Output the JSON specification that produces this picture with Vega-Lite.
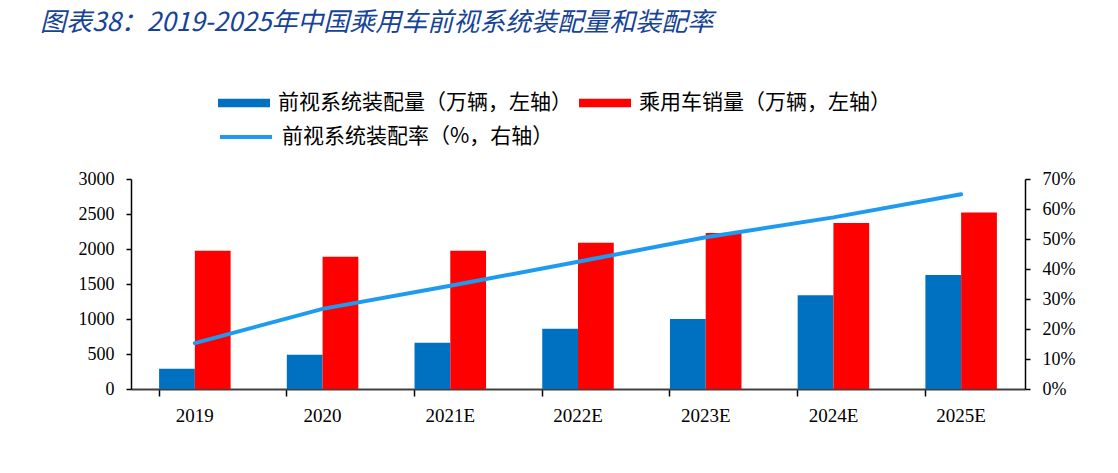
{
  "$schema": "https://vega.github.io/schema/vega-lite/v6.json",
  "width": 894,
  "height": 210,
  "autosize": "none",
  "padding": {"left": 131, "top": 179, "right": 93, "bottom": 84},
  "background": "white",
  "config": {
    "view": {"stroke": "transparent"},
    "axis": {"grid": false, "labelColor": "black", "tickColor": "black", "domainColor": "black"}
  },
  "title": {
    "text": "图表38：2019-2025年中国乘用车前视系统装配量和装配率",
    "anchor": "start",
    "frame": "group",
    "dx": -91,
    "offset": 41,
    "font": "Noto Sans CJK SC",
    "fontSize": 26,
    "fontStyle": "italic",
    "fontWeight": "normal",
    "color": "#164396"
  },
  "datasets": {
    "bars": [
      {"year": "2019", "series": "前视系统装配量（万辆，左轴）", "value": 290},
      {"year": "2019", "series": "乘用车销量（万辆，左轴）", "value": 1975},
      {"year": "2020", "series": "前视系统装配量（万辆，左轴）", "value": 490},
      {"year": "2020", "series": "乘用车销量（万辆，左轴）", "value": 1890},
      {"year": "2021E", "series": "前视系统装配量（万辆，左轴）", "value": 660},
      {"year": "2021E", "series": "乘用车销量（万辆，左轴）", "value": 1975},
      {"year": "2022E", "series": "前视系统装配量（万辆，左轴）", "value": 860},
      {"year": "2022E", "series": "乘用车销量（万辆，左轴）", "value": 2090},
      {"year": "2023E", "series": "前视系统装配量（万辆，左轴）", "value": 1000},
      {"year": "2023E", "series": "乘用车销量（万辆，左轴）", "value": 2230},
      {"year": "2024E", "series": "前视系统装配量（万辆，左轴）", "value": 1340},
      {"year": "2024E", "series": "乘用车销量（万辆，左轴）", "value": 2370},
      {"year": "2025E", "series": "前视系统装配量（万辆，左轴）", "value": 1630},
      {"year": "2025E", "series": "乘用车销量（万辆，左轴）", "value": 2520}
    ],
    "rate": [
      {"year": "2019", "rate": 0.153},
      {"year": "2020", "rate": 0.267},
      {"year": "2021E", "rate": 0.344},
      {"year": "2022E", "rate": 0.424},
      {"year": "2023E", "rate": 0.506},
      {"year": "2024E", "rate": 0.572},
      {"year": "2025E", "rate": 0.649}
    ]
  },
  "layer": [
    {
      "data": {"name": "bars"},
      "mark": {"type": "bar"},
      "encoding": {
        "x": {
          "field": "year",
          "type": "nominal",
          "sort": null,
          "scale": {"paddingInner": 0.44, "paddingOuter": 0.22},
          "axis": {
            "title": null,
            "labelAngle": 0,
            "labelFont": "Liberation Serif",
            "labelFontSize": 19,
            "labelPadding": 10,
            "bandPosition": 0,
            "tickSize": 7,
            "tickWidth": 1.5,
            "domainColor": "#404040",
            "domainWidth": 2
          }
        },
        "xOffset": {
          "field": "series",
          "type": "nominal",
          "sort": ["前视系统装配量（万辆，左轴）", "乘用车销量（万辆，左轴）"]
        },
        "y": {
          "field": "value",
          "type": "quantitative",
          "scale": {"domain": [0, 3000], "nice": false},
          "axis": {
            "title": null,
            "format": "d",
            "values": [0, 500, 1000, 1500, 2000, 2500, 3000],
            "labelFont": "Liberation Serif",
            "labelFontSize": 18,
            "labelPadding": 12,
            "tickSize": 5,
            "tickWidth": 1.5,
            "domainWidth": 1.5
          }
        },
        "color": {
          "field": "series",
          "type": "nominal",
          "sort": ["前视系统装配量（万辆，左轴）", "乘用车销量（万辆，左轴）"],
          "scale": {"range": ["#0070C0", "#FF0000"]},
          "legend": {
            "title": null,
            "orient": "none",
            "legendX": 87,
            "legendY": -102,
            "direction": "horizontal",
            "columns": 2,
            "columnPadding": 7,
            "symbolType": "M-1,-0.16H1V0.16H-1Z",
            "symbolSize": 2704,
            "symbolStrokeWidth": 0,
            "labelOffset": 8,
            "labelLimit": 400,
            "labelFont": "Noto Sans CJK SC",
            "labelFontSize": 21,
            "labelColor": "black"
          }
        }
      }
    },
    {
      "data": {"name": "rate"},
      "mark": {"type": "line", "strokeWidth": 4, "strokeCap": "round"},
      "encoding": {
        "x": {"field": "year", "type": "nominal", "sort": null},
        "y": {
          "field": "rate",
          "type": "quantitative",
          "scale": {"domain": [0, 0.7], "nice": false},
          "axis": {
            "title": null,
            "orient": "right",
            "format": ".0%",
            "values": [0, 0.1, 0.2, 0.3, 0.4, 0.5, 0.6, 0.7],
            "labelFont": "Liberation Serif",
            "labelFontSize": 18,
            "labelPadding": 12,
            "tickSize": 5,
            "tickWidth": 1.5,
            "domainWidth": 1.5
          }
        },
        "stroke": {
          "datum": "前视系统装配率（%，右轴）",
          "type": "nominal",
          "scale": {"range": ["#1E9BF0"]},
          "legend": {
            "title": null,
            "orient": "none",
            "legendX": 87,
            "legendY": -70,
            "symbolType": "stroke",
            "symbolSize": 2704,
            "symbolStrokeWidth": 4,
            "labelOffset": 8,
            "labelLimit": 400,
            "labelFont": "Noto Sans CJK SC",
            "labelFontSize": 21,
            "labelColor": "black"
          }
        }
      }
    }
  ],
  "resolve": {"scale": {"y": "independent", "color": "independent"}}
}
